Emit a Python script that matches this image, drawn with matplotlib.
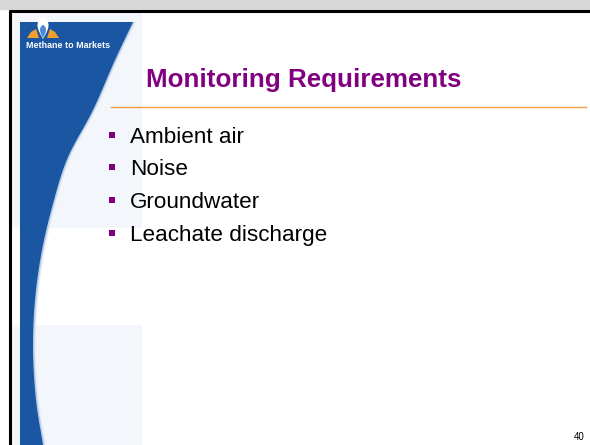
import matplotlib
matplotlib.use("Agg")
import matplotlib.pyplot as plt
from matplotlib.patches import Polygon, Rectangle
import numpy as np

title = "Monitoring Requirements"
bullets = ["Ambient air", "Noise", "Groundwater", "Leachate discharge"]
page_number = "40"
logo_text = "Methane to Markets"

W, H = 590, 445
fig = plt.figure(figsize=(W / 100, H / 100), dpi=100)
ax = fig.add_axes([0, 0, 1, 1])
ax.set_xlim(0, W)
ax.set_ylim(H, 0)
ax.axis("off")

# background
ax.add_patch(Rectangle((0, 0), W, H, color="white", zorder=0))
ax.add_patch(Rectangle((0, 0), W, 9, color="#d8d8d8", zorder=1))
# left light panel
ax.add_patch(Rectangle((10, 11), 132, 217, color="#f3f6fa", zorder=1, lw=0))
ax.add_patch(Rectangle((10, 325), 132, 120, color="#f3f6fa", zorder=1, lw=0))

# blue swoosh outline (smoothed with Catmull-Rom)
ctrl = np.array([(133, 22), (115, 60), (93, 110), (68, 157), (54, 200), (42, 250),
                 (35, 300), (33, 350), (36, 400), (43, 445)], float)
ext = np.vstack([ctrl[0] * 2 - ctrl[1], ctrl, ctrl[-1] * 2 - ctrl[-2]])
curve = []
for i in range(1, len(ext) - 2):
    p0, p1, p2, p3 = ext[i - 1], ext[i], ext[i + 1], ext[i + 2]
    for t in np.linspace(0, 1, 12, endpoint=False):
        t2, t3 = t * t, t * t * t
        curve.append(0.5 * ((2 * p1) + (-p0 + p2) * t + (2 * p0 - 5 * p1 + 4 * p2 - p3) * t2
                            + (-p0 + 3 * p1 - 3 * p2 + p3) * t3))
curve.append(ext[-2])
curve = np.array(curve)

for off, col in [(3, "#e6eef7"), (1.5, "#b4cae6")]:
    pts = np.vstack([[20, 22], curve + [off, 0], [20, 445]])
    ax.add_patch(Polygon(pts, closed=True, color=col, zorder=2, lw=0))
pts = np.vstack([[20, 22], curve, [20, 445]])
ax.add_patch(Polygon(pts, closed=True, color="#1b56a2", zorder=3, lw=0))

# black border
ax.plot([8.5, W], [10.5, 10.5], color="black", lw=2.2, zorder=5, solid_capstyle="butt")
ax.plot([9.5, 9.5], [9.5, H], color="black", lw=2.2, zorder=5, solid_capstyle="butt")

# logo: orange wedges and flame
ax.add_patch(Polygon([(27, 38), (31, 32), (36, 29), (39, 38)], closed=True,
                     color="#f0a028", zorder=4, lw=0))
ax.add_patch(Polygon([(47, 38), (50, 29), (55, 32), (59, 38)], closed=True,
                     color="#f0a028", zorder=4, lw=0))
t = np.linspace(0, 1, 40)
fx = np.concatenate([43 - 5.5 * np.sin(np.pi * t ** 0.7), 43 + 5.5 * np.sin(np.pi * t[::-1] ** 0.7)])
fy = np.concatenate([17 + 22 * t, 17 + 22 * t[::-1]])
ax.add_patch(Polygon(np.column_stack([fx, fy]), closed=True, color="#ffffff", zorder=4, lw=0))
fx2 = np.concatenate([43 - 3 * np.sin(np.pi * t ** 0.7), 43 + 3 * np.sin(np.pi * t[::-1] ** 0.7)])
fy2 = np.concatenate([25 + 13 * t, 25 + 13 * t[::-1]])
ax.add_patch(Polygon(np.column_stack([fx2, fy2]), closed=True, color="#4a8ad6", zorder=4, lw=0))
ax.text(26.5, 45.5, logo_text, color="white", fontsize=6.4, fontweight="bold",
        family="Liberation Sans", va="center", ha="left", zorder=6)

# title
ax.text(146, 86.7, title, color="#800080", fontsize=18.7, fontweight="bold",
        family="Liberation Sans", va="baseline", ha="left", zorder=6)
ax.plot([111, 586], [107, 107], color="#f0a040", lw=1.0, zorder=6)

# bullets
baselines = [142.7, 175.4, 208.1, 240.8]
ax.scatter([112] * len(bullets), [b - 8.2 for b in baselines], marker="s", s=20,
           color="#800080", zorder=6, lw=0)
for y, b in zip(baselines, bullets):
    ax.text(130, y, b, color="black", fontsize=16.2, family="Liberation Sans",
            va="baseline", ha="left", zorder=6)

ax.text(585, 440, page_number, color="black", fontsize=7, family="Liberation Sans",
        va="baseline", ha="right", zorder=6)

fig.savefig("out.png", dpi=100)
